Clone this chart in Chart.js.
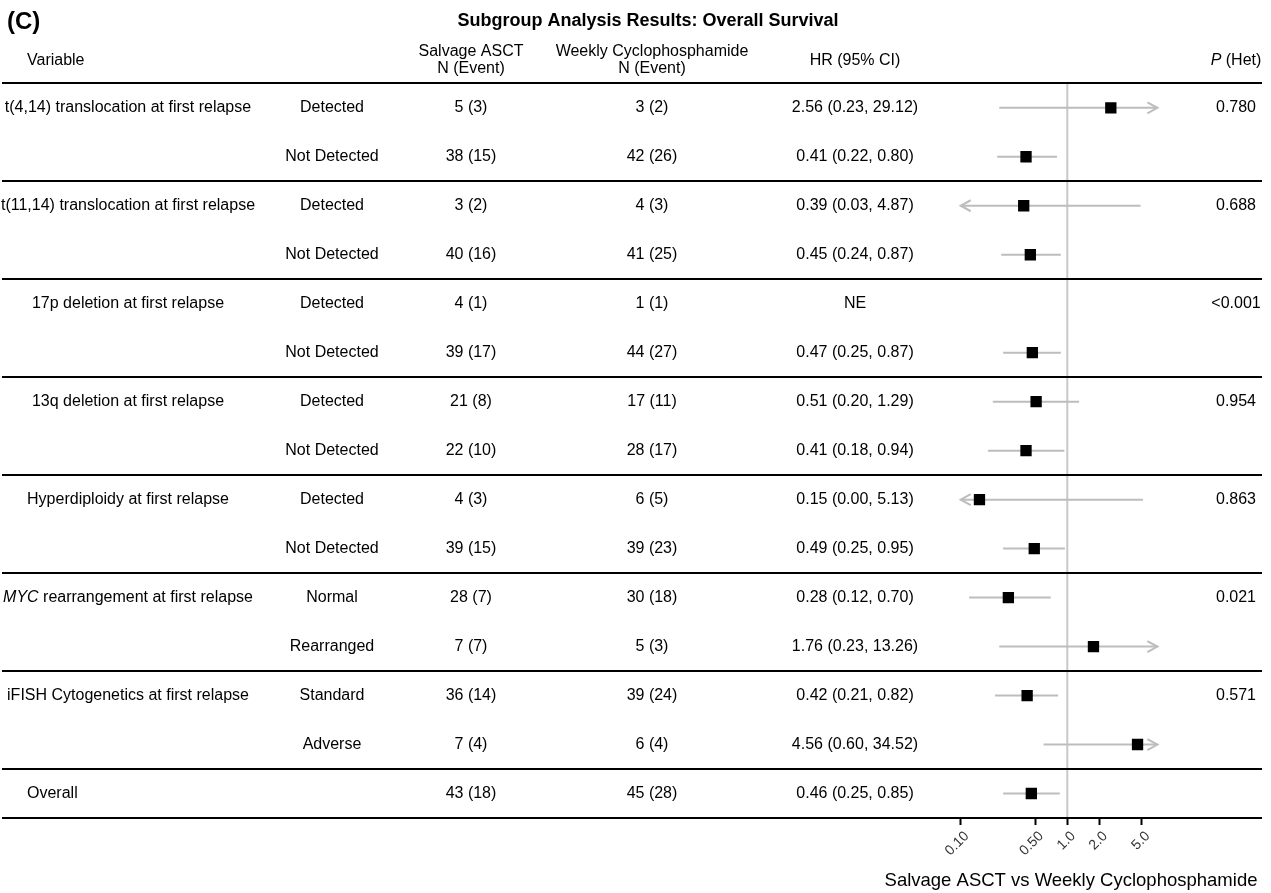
<!DOCTYPE html>
<html>
<head>
<meta charset="utf-8">
<title>Subgroup Analysis Results: Overall Survival</title>
<script src="https://cdn.jsdelivr.net/npm/chart.js@4.4.0/dist/chart.umd.min.js"></script>
<style>
  html, body { margin: 0; padding: 0; background: #fff; }
  #wrap { width: 1271px; height: 893px; position: relative; }
</style>
</head>
<body>
<div id="wrap"><canvas id="forest"></canvas></div>
<script>
// --- data ---
const panelLabel = "(C)";
const chartTitle = "Subgroup Analysis Results: Overall Survival";
const axisTitle = "Salvage ASCT vs Weekly Cyclophosphamide";

const groups = [
  "t(4,14) translocation at first relapse",
  "t(11,14) translocation at first relapse",
  "17p deletion at first relapse",
  "13q deletion at first relapse",
  "Hyperdiploidy at first relapse",
  "MYC rearrangement at first relapse",
  "iFISH Cytogenetics at first relapse",
  "Overall"
];
const italicPrefix = ["", "", "", "", "", "MYC", "", ""];
const pHet = ["0.780", "0.688", "<0.001", "0.954", "0.863", "0.021", "0.571", ""];

// one entry per row
const groupOfRow = [0, 0, 1, 1, 2, 2, 3, 3, 4, 4, 5, 5, 6, 6, 7];
const subgroups = ["Detected", "Not Detected", "Detected", "Not Detected", "Detected", "Not Detected",
  "Detected", "Not Detected", "Detected", "Not Detected", "Normal", "Rearranged", "Standard", "Adverse", ""];
const asctN = ["5 (3)", "38 (15)", "3 (2)", "40 (16)", "4 (1)", "39 (17)", "21 (8)", "22 (10)",
  "4 (3)", "39 (15)", "28 (7)", "7 (7)", "36 (14)", "7 (4)", "43 (18)"];
const cycloN = ["3 (2)", "42 (26)", "4 (3)", "41 (25)", "1 (1)", "44 (27)", "17 (11)", "28 (17)",
  "6 (5)", "39 (23)", "30 (18)", "5 (3)", "39 (24)", "6 (4)", "45 (28)"];
const hr = [2.56, 0.41, 0.39, 0.45, null, 0.47, 0.51, 0.41, 0.15, 0.49, 0.28, 1.76, 0.42, 4.56, 0.46];
const lo = [0.23, 0.22, 0.03, 0.24, null, 0.25, 0.20, 0.18, 0.00, 0.25, 0.12, 0.23, 0.21, 0.60, 0.25];
const hi = [29.12, 0.80, 4.87, 0.87, null, 0.87, 1.29, 0.94, 5.13, 0.95, 0.70, 13.26, 0.82, 34.52, 0.85];

const tickValues = [0.1, 0.5, 1, 2, 5];
const tickLabels = ["0.10", "0.50", "1.0", "2.0", "5.0"];
const xClip = [0.1, 7]; // CIs beyond this get an arrow

// --- layout ---
const FONT = '"Liberation Sans", Arial, Helvetica, sans-serif';
const colVar = 128, colSub = 332, colAsct = 471, colCyc = 652, colHr = 855, colP = 1236;
const lineLeft = 2, lineRight = 1262;

const fmt = v => v.toFixed(2);
const hrText = hr.map((h, i) => h === null ? "NE" : fmt(h) + " (" + fmt(lo[i]) + ", " + fmt(hi[i]) + ")");

// CI segments, one small line dataset each
const ciSets = [];
hr.forEach((h, i) => {
  if (h === null) return;
  ciSets.push({
    type: "line",
    data: [{ x: Math.max(lo[i], xClip[0]), y: i }, { x: Math.min(hi[i], xClip[1]), y: i }],
    borderColor: "#bdbdbd",
    borderWidth: 2,
    pointRadius: 0,
    fill: false,
    order: 1
  });
});

const points = [];
hr.forEach((h, i) => { if (h !== null) points.push({ x: h, y: i }); });

// draw text with an optional italic start
function richText(ctx, prefix, rest, x, y, align, size) {
  const it = "italic " + size + "px " + FONT;
  const nm = size + "px " + FONT;
  ctx.font = it;
  const w1 = ctx.measureText(prefix).width;
  ctx.font = nm;
  const w2 = ctx.measureText(rest).width;
  let start = x;
  if (align === "center") start = x - (w1 + w2) / 2;
  if (align === "right") start = x - (w1 + w2);
  ctx.textAlign = "left";
  ctx.font = it;
  ctx.fillText(prefix, start, y);
  ctx.font = nm;
  ctx.fillText(rest, start + w1, y);
}

function chevron(ctx, x, y, dir) {
  ctx.beginPath();
  ctx.moveTo(x - dir * 10, y - 5.5);
  ctx.lineTo(x, y);
  ctx.lineTo(x - dir * 10, y + 5.5);
  ctx.stroke();
}

const tablePlugin = {
  id: "forestTable",
  afterDatasetsDraw(chart) {
    const ctx = chart.ctx, xs = chart.scales.x, ys = chart.scales.y;
    ctx.save();
    ctx.strokeStyle = "#bdbdbd";
    ctx.lineWidth = 2;
    hr.forEach((h, i) => {
      if (h === null) return;
      const py = ys.getPixelForValue(i);
      if (lo[i] < xClip[0]) chevron(ctx, xs.getPixelForValue(xClip[0]), py, -1);
      if (hi[i] > xClip[1]) chevron(ctx, xs.getPixelForValue(xClip[1]), py, 1);
    });
    ctx.restore();
  },
  afterDraw(chart) {
    const ctx = chart.ctx, ys = chart.scales.y;
    const size = 16;
    ctx.save();
    ctx.fillStyle = "#000";
    ctx.textBaseline = "middle";

    // titles
    ctx.font = "bold 24px " + FONT;
    ctx.textAlign = "left";
    ctx.fillText(panelLabel, 7, 22);
    ctx.font = "bold 18px " + FONT;
    ctx.textAlign = "center";
    ctx.fillText(chartTitle, 648, 21);

    // column headers
    ctx.font = size + "px " + FONT;
    ctx.textAlign = "left";
    ctx.fillText("Variable", 27, 61);
    ctx.textAlign = "center";
    ctx.fillText("Salvage ASCT", colAsct, 52);
    ctx.fillText("N (Event)", colAsct, 69);
    ctx.fillText("Weekly Cyclophosphamide", colCyc, 52);
    ctx.fillText("N (Event)", colCyc, 69);
    ctx.fillText("HR (95% CI)", colHr, 61);
    richText(ctx, "P", " (Het)", colP, 61, "center", size);

    // rows
    groupOfRow.forEach((g, i) => {
      const py = ys.getPixelForValue(i);
      ctx.font = size + "px " + FONT;
      ctx.textAlign = "center";
      if (i === 0 || groupOfRow[i - 1] !== g) {
        const name = groups[g];
        const pre = italicPrefix[g];
        if (name === "Overall") {
          ctx.textAlign = "left";
          ctx.fillText(name, 27, py);
        } else {
          richText(ctx, pre, name.slice(pre.length), colVar, py, "center", size);
        }
        ctx.font = size + "px " + FONT;
        ctx.textAlign = "center";
        ctx.fillText(pHet[g], colP, py);
      }
      ctx.fillText(subgroups[i], colSub, py);
      ctx.fillText(asctN[i], colAsct, py);
      ctx.fillText(cycloN[i], colCyc, py);
      ctx.fillText(hrText[i], colHr, py);
    });

    // separators
    ctx.strokeStyle = "#000";
    ctx.lineWidth = 2;
    const cuts = [-0.5];
    groupOfRow.forEach((g, i) => { if (i > 0 && groupOfRow[i - 1] !== g) cuts.push(i - 0.5); });
    cuts.push(groupOfRow.length - 0.5);
    cuts.forEach(v => {
      const py = Math.round(ys.getPixelForValue(v));
      ctx.beginPath();
      ctx.moveTo(lineLeft, py);
      ctx.lineTo(lineRight, py);
      ctx.stroke();
    });

    // axis title
    ctx.font = "18.5px " + FONT;
    ctx.textAlign = "center";
    ctx.fillText(axisTitle, 1071, 881);
    ctx.restore();
  }
};

new Chart(document.getElementById("forest"), {
  type: "scatter",
  data: {
    datasets: [
      {
        data: points,
        pointStyle: "rect",
        pointRadius: 8,
        pointHoverRadius: 8,
        backgroundColor: "#000",
        borderWidth: 0,
        order: 0
      },
      ...ciSets,
      {
        type: "line",
        data: [{ x: 1, y: -0.5 }, { x: 1, y: groupOfRow.length - 0.5 }],
        borderColor: "#c8c8c8",
        borderWidth: 2,
        pointRadius: 0,
        fill: false,
        order: 2
      }
    ]
  },
  options: {
    responsive: true,
    maintainAspectRatio: false,
    animation: false,
    layout: { padding: { left: 928.6, right: 97.1, top: 83.3, bottom: 0 } },
    plugins: { legend: { display: false }, tooltip: { enabled: false } },
    scales: {
      x: {
        type: "logarithmic",
        min: 0.05,
        max: 10,
        afterBuildTicks: s => { s.ticks = tickValues.map(v => ({ value: v })); },
        afterFit: s => { s.height = 75; },
        border: { display: false },
        grid: { drawOnChartArea: false, drawTicks: true, tickLength: 7, color: "#000", tickWidth: 2 },
        ticks: {
          autoSkip: false,
          minRotation: 45,
          maxRotation: 45,
          padding: 3,
          labelOffset: 6,
          color: "#333",
          font: { family: FONT, size: 14 },
          callback: (v, i) => tickLabels[i]
        }
      },
      y: { type: "linear", min: -0.5, max: groupOfRow.length - 0.5, reverse: true, display: false }
    }
  },
  plugins: [tablePlugin]
});
</script>
</body>
</html>
